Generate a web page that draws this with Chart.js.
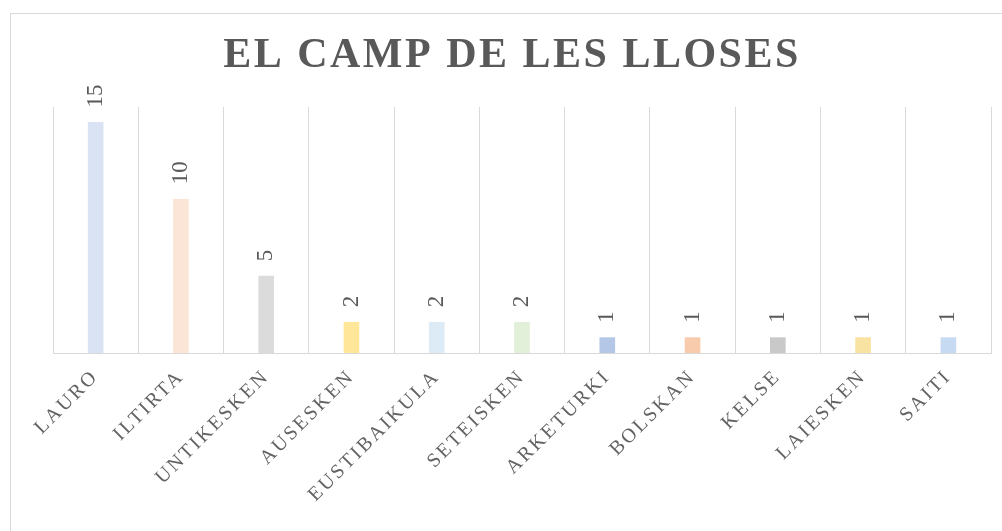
<!DOCTYPE html>
<html><head>
<meta charset="UTF-8">
<title>El camp de les lloses</title>
<script src="https://cdn.jsdelivr.net/npm/chart.js"></script>
<style>
  html, body { margin: 0; padding: 0; background: #ffffff; }
  body { width: 1002px; height: 531px; position: relative; overflow: hidden; }
  .frame { position: absolute; left: 10px; top: 13px; width: 995px; height: 560px; border: 1px solid #d9d9d9; }
  .wrap { position: absolute; left: 0; top: 0; width: 1002px; height: 531px; }
</style>
</head><body>
<div class="frame"></div>
<div class="wrap"><canvas id="chart"></canvas></div>
<script>
const categories = ['LAURO', 'ILTIRTA', 'UNTIKESKEN', 'AUSESKEN', 'EUSTIBAIKULA', 'SETEISKEN', 'ARKETURKI', 'BOLSKAN', 'KELSE', 'LAIESKEN', 'SAITI'];
const counts = [15, 10, 5, 2, 2, 2, 1, 1, 1, 1, 1];
const barColors = ['#dae3f3', '#fbe5d6', '#dbdbdb', '#ffe699', '#ddebf7', '#e2f0d9', '#b4c7e7', '#f8cbad', '#c9c9c9', '#f9e3a3', '#c6dbf1'];
const yMax = 16;
const chartTitle = 'EL CAMP DE LES LLOSES';

const serif = '"Liberation Serif", "DejaVu Serif", serif';
const grey = '#595959';

// title and rotated value labels, drawn by hand so we get letter spacing / rotation
const extras = {
  id: 'extras',
  beforeDraw(chart) {
    chart.ctx.letterSpacing = '2.5px';
  },
  afterDatasetsDraw(chart) {
    const ctx = chart.ctx;
    ctx.save();
    ctx.letterSpacing = '0px';
    ctx.fillStyle = grey;
    ctx.font = '23px ' + serif;
    ctx.textAlign = 'left';
    ctx.textBaseline = 'middle';
    chart.getDatasetMeta(0).data.forEach((bar, i) => {
      ctx.save();
      ctx.translate(bar.x, bar.y - 15);
      ctx.rotate(-Math.PI / 2);
      ctx.fillText(String(counts[i]), 0, 0);
      ctx.restore();
    });
    ctx.font = 'bold 42px ' + serif;
    ctx.letterSpacing = '2.5px';
    ctx.textAlign = 'center';
    ctx.textBaseline = 'middle';
    ctx.fillText(chartTitle, 512, 56);
    ctx.restore();
  }
};

new Chart(document.getElementById('chart'), {
  type: 'bar',
  data: {
    labels: categories,
    datasets: [{
      data: counts,
      backgroundColor: barColors,
      barThickness: 15
    }]
  },
  options: {
    responsive: true,
    maintainAspectRatio: false,
    animation: false,
    layout: { padding: { left: 53, right: 11, top: 107, bottom: 0 } },
    plugins: {
      legend: { display: false },
      title: { display: false },
      tooltip: { enabled: false }
    },
    scales: {
      x: {
        grid: { display: true, offset: true, color: '#d9d9d9', lineWidth: 1, drawTicks: false },
        border: { display: true, color: '#d9d9d9' },
        ticks: {
          color: '#636363',
          font: { family: serif, size: 20 },
          maxRotation: 45,
          minRotation: 45,
          padding: 12,
          autoSkip: false
        },
        afterFit(scale) { scale.height = 178; }
      },
      y: {
        display: false,
        min: 0,
        max: yMax
      }
    }
  },
  plugins: [extras]
});
</script>
</body></html>
